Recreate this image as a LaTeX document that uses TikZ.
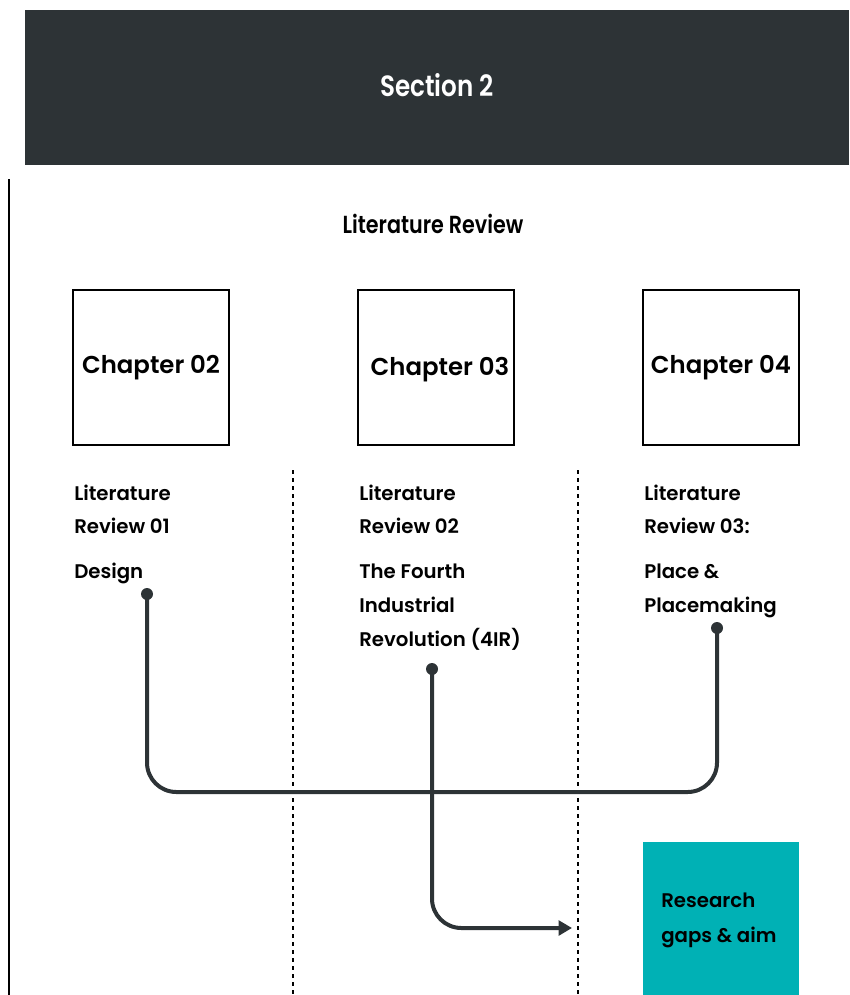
\documentclass[tikz,border=0pt]{standalone}
\usepackage{fontspec}
\setmainfont{Poppins}[BoldFont={Poppins SemiBold}]
\newfontfamily\headfont{Poppins}[FakeStretch=0.84, BoldFont={Poppins SemiBold}]
\usetikzlibrary{arrows.meta}
\definecolor{slate}{RGB}{45,51,54}
\definecolor{teal}{RGB}{0,177,181}
\tikzset{
  banner/.style={fill=slate, draw=none},
  chapbox/.style={draw=black, line width=1.5pt, minimum width=117pt, minimum height=116pt, inner sep=0pt},
  chaptext/.style={font=\bfseries\fontsize{18.3}{22}\selectfont, anchor=base},
  bodytext/.style={font=\bfseries\fontsize{14.8}{17}\selectfont, anchor=base west, inner sep=0pt},
  divider/.style={line width=1.1pt, dash pattern=on 3pt off 3pt},
  flow/.style={draw=slate, line width=3pt, rounded corners=22pt},
  pin/.style={fill=slate, draw=none},
}
\begin{document}
\begin{tikzpicture}[x=0.75pt,y=-0.75pt]
\useasboundingbox (0,0) rectangle (849,995);
% header banner
\fill[banner] (25,10) rectangle (849,165);
\node[text=white, font=\headfont\bfseries\fontsize{22}{26}\selectfont] (sec) at (437,85) {Section 2};
% left margin rule
\draw[line width=2.2pt] (9,179) -- (9,995);
\node[font=\headfont\bfseries\fontsize{18.5}{22}\selectfont] (lr) at (433,224) {Literature Review};
% chapter boxes
\node[chapbox] (c2) at (151,367.5) {};
\node[chapbox] (c3) at (436,367.5) {};
\node[chapbox] (c4) at (721,367.5) {};
\node[chaptext] (c2t) at (151,373) {Chapter 02};
\node[chaptext] (c3t) at (440,375) {Chapter 03};
\node[chaptext] (c4t) at (721,373) {Chapter 04};
% column dividers
\draw[divider] (293,470) -- (293,995);
\draw[divider] (578,470) -- (578,995);
% review texts
\node[bodytext] (r1a) at (74,500) {Literature};
\node[bodytext] (r1b) at (74,533) {Review 01};
\node[bodytext] (r1c) at (74,578) {Design};
\node[bodytext] (r2a) at (359,500) {Literature};
\node[bodytext] (r2b) at (359,533) {Review 02};
\node[bodytext] (r2c) at (359,578) {The Fourth};
\node[bodytext] (r2d) at (359,612) {Industrial};
\node[bodytext] (r2e) at (359,646) {Revolution (4IR)};
\node[bodytext] (r3a) at (644,500) {Literature};
\node[bodytext] (r3b) at (644,533) {Review 03:};
\node[bodytext] (r3c) at (644,578) {Place \&};
\node[bodytext] (r3d) at (644,612) {Placemaking};
% research box
\fill[teal] (643,842) rectangle (799,995);
\node[bodytext] (g1) at (661,907) {Research};
\node[bodytext] (g2) at (661,942) {gaps \& aim};
% connector anchors
\coordinate (p1) at (147,594);
\coordinate (p2) at (432,669);
\coordinate (p3) at (717,628);
\coordinate (hl) at (0,792);
\coordinate (al) at (0,928);
\coordinate (tip) at (572,928);
% connectors
\draw[flow] (p1) -- (p1 |- hl) -- (p3 |- hl) -- (p3);
\draw[flow, -{Triangle[length=10pt,width=11pt]}] (p2) -- (p2 |- al) -- (tip);
\fill[pin] (p1) circle (6);
\fill[pin] (p2) circle (6);
\fill[pin] (p3) circle (6);
\end{tikzpicture}
\end{document}
